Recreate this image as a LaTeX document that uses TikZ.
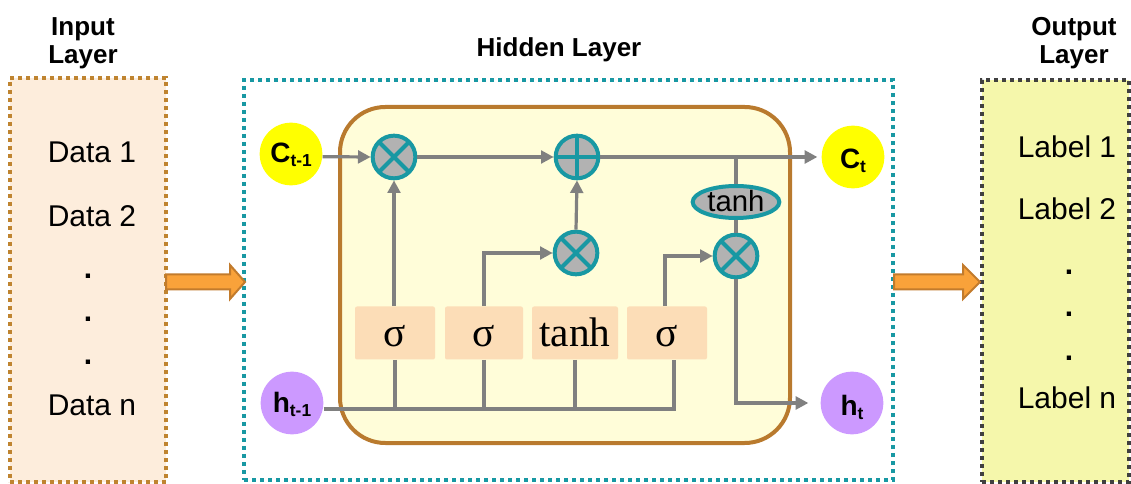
\documentclass[tikz,border=0pt]{standalone}
\usepackage{fontspec}
\setmainfont{Liberation Sans}
\newfontfamily\myserif{Liberation Serif}
\usetikzlibrary{shapes.geometric,arrows.meta,calc}
\definecolor{tealc}{RGB}{24,152,163}
\definecolor{gfill}{RGB}{178,178,178}
\definecolor{conn}{RGB}{128,128,128}
\definecolor{cellfill}{RGB}{255,253,217}
\definecolor{cellline}{RGB}{185,122,46}
\definecolor{boxfill}{RGB}{252,221,183}
\definecolor{infill}{RGB}{253,237,220}
\definecolor{inline}{RGB}{191,132,48}
\definecolor{outfill}{RGB}{245,247,171}
\definecolor{outline}{RGB}{64,64,64}
\definecolor{arrfill}{RGB}{249,162,58}
\definecolor{arrline}{RGB}{194,123,44}
\definecolor{cyel}{RGB}{255,255,0}
\definecolor{hpur}{RGB}{204,153,255}
\begin{document}
\begin{tikzpicture}[x=0.75pt,y=-0.75pt,
  layerbox/.style={rectangle,line width=2.6pt,dash pattern=on 2.8pt off 3.2pt,inner sep=0pt},
  head/.style={font=\bfseries\fontsize{19.5}{21}\selectfont,align=center,inner sep=0pt},
  item/.style={font=\fontsize{22.5}{27}\selectfont,inner sep=0pt,anchor=base},
  gate/.style={rectangle,fill=boxfill,rounded corners=1.5pt,minimum height=39.75pt,inner sep=0pt,
    font=\myserif\fontsize{31}{31}\selectfont,text height=21pt,text depth=0pt},
  op/.style={circle,fill=gfill,draw=tealc,line width=3pt,minimum size=32pt,inner sep=0pt},
  mult/.style={op,path picture={\draw[tealc,line width=3pt]
      (path picture bounding box.north west)--(path picture bounding box.south east)
      (path picture bounding box.north east)--(path picture bounding box.south west);}},
  addop/.style={op,path picture={\draw[tealc,line width=3pt]
      (path picture bounding box.north)--(path picture bounding box.south)
      (path picture bounding box.west)--(path picture bounding box.east);}},
  state/.style={circle,minimum size=47pt,inner sep=0pt,font=\bfseries\fontsize{21}{21}\selectfont},
  sub/.style={},
  wire/.style={draw=conn,line width=2.4pt},
  arr/.style={wire,-{Triangle[length=9.5pt,width=9.5pt]}},
  barrow/.style={fill=arrfill,draw=arrline,line width=1.5pt,line join=miter}
]
\useasboundingbox (0,0) rectangle (1131,484);

% layer boxes
\node[layerbox,fill=infill,draw=inline,minimum width=117pt,minimum height=303pt] (inbox) at (88,280) {};
\node[layerbox,draw=tealc,minimum width=486.75pt,minimum height=300pt] (hid) at (568.5,280) {};
\node[layerbox,fill=outfill,draw=outline,minimum width=110.25pt,minimum height=301.5pt] (outbox) at (1055.5,281) {};

% headings
\node[head,anchor=north] (inh) at (83,17) {Input\\Layer};
\node[head,anchor=base] (hidh) at (559,57) {Hidden Layer};
\node[head,anchor=north] (outh) at (1074,17) {Output\\Layer};

% input items
\node[item] (d1) at (92,163) {Data 1};
\node[item] (d2) at (92,227) {Data 2};
\node[item] (dd1) at (88,279) {\textbf{.}};
\node[item] (dd2) at (88,322) {\textbf{.}};
\node[item] (dd3) at (88,364) {\textbf{.}};
\node[item] (dn) at (92,415) {Data n};

% output items
\node[item] (l1) at (1067,158) {Label 1};
\node[item] (l2) at (1067,220) {Label 2};
\node[item] (ld1) at (1069,275) {\textbf{.}};
\node[item] (ld2) at (1069,317) {\textbf{.}};
\node[item] (ld3) at (1069,360) {\textbf{.}};
\node[item] (ln) at (1067,408) {Label n};

% block arrows
\coordinate (a1s) at (166,282);
\coordinate (a1e) at (245,282);
\coordinate (a2s) at (894,282);
\coordinate (a2e) at (980,282);
\draw[barrow] ($(a1s)+(0,-7.5)$) -- ($(a1e)+(-15,-7.5)$) -- ($(a1e)+(-15,-17)$) -- (a1e)
  -- ($(a1e)+(-15,17)$) -- ($(a1e)+(-15,7.5)$) -- ($(a1s)+(0,7.5)$) -- cycle;
\draw[barrow] ($(a2s)+(0,-7.5)$) -- ($(a2e)+(-17,-7.5)$) -- ($(a2e)+(-17,-17)$) -- (a2e)
  -- ($(a2e)+(-17,17)$) -- ($(a2e)+(-17,7.5)$) -- ($(a2s)+(0,7.5)$) -- cycle;

% LSTM cell
\node[rectangle,rounded corners=34pt,fill=cellfill,draw=cellline,line width=3pt,
  minimum width=337.5pt,minimum height=252pt] (cell) at (565,275) {};

% gates
\node[gate,minimum width=60pt] (b1) at (395,333) {σ};
\node[gate,minimum width=58.5pt] (b2) at (484,333) {σ};
\node[gate,minimum width=64.5pt] (b3) at (575,333) {tanh};
\node[gate,minimum width=60pt] (b4) at (667,333) {σ};

% operators
\node[mult] (m1) at (394,157) {};
\node[addop] (pl) at (577,157) {};
\node[mult] (m2) at (576,253) {};
\node[mult] (m3) at (736,256) {};
\node[ellipse,fill=gfill,draw=tealc,line width=3pt,minimum width=65pt,minimum height=24pt,
  inner sep=0pt,font=\fontsize{22}{22}\selectfont,text height=15pt,text depth=0pt] (th) at (736,202) {tanh};

% states
\node[state,fill=cyel,text height=13.5pt,text depth=0pt] (ct1) at (291,154) {C\raisebox{-3pt}{\fontsize{13}{13}\selectfont t-1}};
\node[state,fill=hpur,text height=13.5pt,text depth=0pt] (ht1) at (292,403) {h\raisebox{-3pt}{\fontsize{13}{13}\selectfont t-1}};
\node[state,fill=cyel,text height=18pt,text depth=0pt] (ct) at (853,157) {C\raisebox{-3pt}{\fontsize{13}{13}\selectfont t}};
\node[state,fill=hpur,text height=18pt,text depth=0pt] (ht) at (852,403) {h\raisebox{-3pt}{\fontsize{13}{13}\selectfont t}};

% wires
\draw[arr] ([yshift=-2pt]ct1.east) -- (m1.west);
\draw[arr] (m1.east) -- (pl.west);
\draw[arr,shorten >=3pt] (pl.east) -- (ct.west);
\coordinate (br) at (736,157);
\draw[wire] (br) -- (th.north);
\draw[wire] (th.south) -- (m3.north);
\draw[arr,shorten >=9pt] (m3.south) |- (ht.west);
\draw[arr] (b1.north -| m1.south) -- (m1.south);
\draw[arr] (b2.north) |- (m2.west);
\draw[arr] (m2.north) -- (pl.south);
\draw[arr] ([xshift=-1.5pt]b4.north) |- (m3.west);

\coordinate (hend) at (674,409);
\draw[wire] ([yshift=-4.5pt]ht1.east) -- (hend) -- (hend |- b4.south);
\draw[wire] (b1.south) -- (b1.south |- hend);
\draw[wire] (b2.south) -- (b2.south |- hend);
\draw[wire] (b3.south) -- (b3.south |- hend);
\end{tikzpicture}
\end{document}
